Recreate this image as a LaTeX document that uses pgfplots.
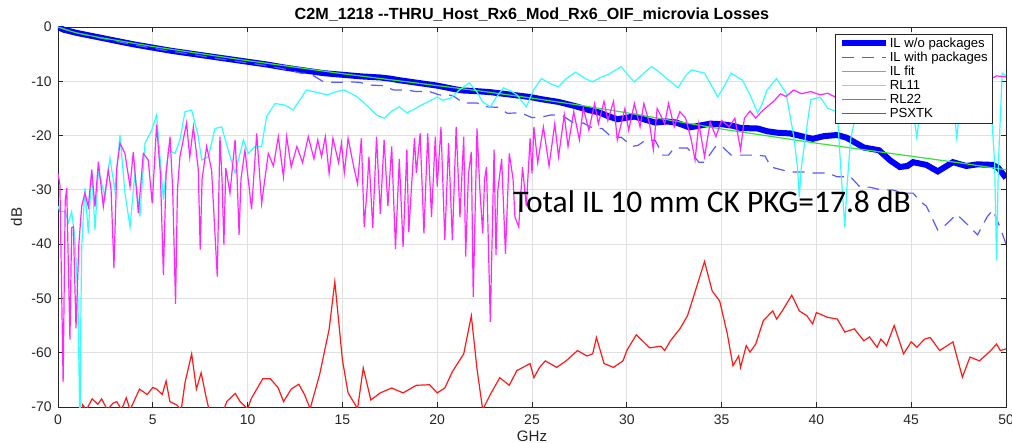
\documentclass[border=0pt]{standalone}
\usepackage{pgfplots}
\pgfplotsset{compat=1.18}
\usepackage{fontspec}
\setmainfont{Liberation Sans}
\newfontfamily\calibri{Carlito}

\definecolor{axgray}{rgb}{0.15,0.15,0.15}
\definecolor{gridgray}{rgb}{0.88,0.88,0.88}
\definecolor{ilblue}{rgb}{0,0,1}
\definecolor{dashblue}{rgb}{0.35,0.35,1}
\definecolor{fitgreen}{rgb}{0.2,0.9,0.2}
\definecolor{rlcyan}{rgb}{0.2,1,1}
\definecolor{rlmagenta}{rgb}{1,0.15,1}
\definecolor{xtred}{rgb}{1,0.1,0.1}

% thin curve in colour #1, with a legend sample that keeps the colour
\pgfplotsset{thin curve/.style={draw=#1, line width=0.6bp,
  legend image post style={draw=#1, line width=0.8bp}}}

\begin{document}
\begin{tikzpicture}
\begin{axis}[
  scale only axis, width=474bp, height=190bp,
  xmin=0, xmax=50, ymin=-70, ymax=0,
  xtick={0,5,...,50}, ytick={-70,-60,...,0},
  grid=major, grid style={gridgray, line width=0.4bp},
  axis line style={axgray, line width=0.4bp},
  tick style={axgray, line width=0.4bp},
  tick align=inside, major tick length=2.5bp,
  /pgf/number format/assume math mode=true,
  ticklabel style={font=\fontsize{7}{8}\selectfont, text=axgray},
  xticklabel style={anchor=base, yshift=-8.5bp},
  yticklabel style={anchor=east, inner sep=0pt, xshift=-3bp},
  title={C2M\_1218 -{}-THRU\_Host\_Rx6\_Mod\_Rx6\_OIF\_microvia Losses},
  title style={font=\bfseries\fontsize{8.1}{9}\selectfont, at={(axis description cs:0.5,1)}, anchor=base, yshift=-2bp},
  xlabel={GHz}, ylabel={dB},
  label style={font=\fontsize{7.6}{9}\selectfont, text=axgray},
  xlabel style={at={(axis description cs:0.5,-0.0895)}, anchor=base},
  ylabel style={at={(axis description cs:-0.038,0.5)}, anchor=base},
  legend cell align=left,
  legend style={at={(axis description cs:0.986,0.982)}, anchor=north east,
    draw=axgray, line width=0.4bp, fill=white,
    font=\fontsize{6.6}{7.5}\selectfont,
    inner xsep=2bp, inner ysep=1.6bp, row sep=0.6bp,
    nodes={inner sep=0.3bp, text height=4.6bp, text depth=1.2bp}},
  legend image code/.code={\draw[#1] (0bp,0.25bp) -- (22bp,0.25bp);},
]
\addplot[draw=ilblue, line width=3bp, legend image post style={draw=ilblue}] coordinates {
(0,0) (0.3,-0.5) (1,-1.1) (2,-1.8) (3,-2.5) (4,-3.2) (5,-3.8) (6,-4.4) (7,-4.9) (8,-5.4) (9,-5.9) (10,-6.4)
(11,-6.9) (12,-7.5) (13,-8.0) (14,-8.5) (15,-8.8) (16,-9.1) (17,-9.3) (17.5,-9.5) (18,-9.8) (19,-10.3)
(20,-10.8) (21,-11.5) (21.4,-11.7) (22,-11.8) (22.8,-12.0) (23.5,-12.3) (24.2,-12.6) (24.9,-12.9)
(25.5,-13.3) (26.4,-13.8) (27.3,-14.6) (28,-15.3) (28.6,-15.8) (29,-16.4) (29.5,-17.0) (30,-16.7)
(30.4,-16.5) (31,-17.1) (31.5,-17.6) (32.1,-17.4) (32.6,-17.6) (33,-18.1) (33.3,-18.5) (33.8,-18.2)
(34.4,-17.8) (35,-17.9) (35.6,-18.2) (36,-18.6) (36.9,-18.7) (37.4,-19.2) (38,-19.5) (38.6,-19.6)
(39.2,-20.1) (39.8,-20.6) (40.4,-20.1) (41.1,-19.9) (41.6,-20.4) (42.5,-22.2) (43.3,-22.7) (43.9,-24.6)
(44.4,-25.8) (44.8,-25.6) (45.1,-24.9) (45.8,-25.4) (46.4,-26.6) (47.2,-24.9) (47.9,-25.6) (48.5,-25.3)
(49.3,-25.4) (49.6,-26.0) (50,-27.8)};
\addlegendentry{IL w/o packages}
\addplot[thin curve=dashblue, dash pattern=on 6bp off 4bp] coordinates {
(0,0) (1,-1.1) (2,-1.9) (3,-2.6) (4,-3.3) (5,-3.9) (6,-4.5) (7,-5.0) (8,-5.6) (9,-6.1) (10,-6.6)
(11,-7.1) (12,-7.8) (12.8,-8.5) (13.3,-8.6) (14,-10.1) (14.7,-10.2) (15.4,-10.1) (15.9,-10.2)
(16.5,-10.7) (17.1,-10.8) (17.7,-11.6) (18.4,-11.6) (18.9,-11.9) (19.6,-11.9) (20.1,-12.5) (20.8,-12.6)
(21.4,-14.0) (22.1,-14.0) (22.6,-14.7) (23.2,-14.8) (23.7,-15.9) (24.4,-15.8) (25.0,-16.7) (25.5,-16.6)
(26.0,-16.2) (26.6,-16.3) (27.2,-17.7) (27.7,-17.7) (28.2,-18.6) (28.7,-18.7) (29.2,-20.3) (29.7,-20.3)
(30.3,-22) (30.6,-21.8) (31.0,-20.8) (31.5,-20.9) (31.9,-23.6) (32.2,-23.6) (32.5,-22.3) (33.2,-22.3)
(33.8,-24.9) (34.1,-24.9) (34.7,-21.9) (35.0,-21.9) (35.5,-23.6) (36.2,-23.6) (36.9,-23.6) (37.3,-23.8)
(37.6,-25.8) (38.6,-26.7) (39.3,-26.7) (39.8,-26.9) (40.6,-26.9) (41.1,-27.6) (41.8,-27.6) (42.3,-29.5)
(42.8,-29.5) (43.4,-30) (44.0,-30) (44.6,-30.6) (45.1,-30.6) (45.5,-32.2) (45.8,-33) (46.4,-37.4)
(46.8,-36.5) (47.4,-34.5) (48.0,-36.5) (48.5,-38.3) (49.0,-35) (49.3,-33.7) (49.7,-37) (50,-40)};
\addlegendentry{IL with packages}
\addplot[thin curve=fitgreen] coordinates {
(0,0) (0.5,-0.6) (1,-1.1) (2,-1.8) (3,-2.4) (5,-3.6) (7.5,-4.9) (10,-6.2) (12.5,-7.4) (15,-8.6)
(17.5,-9.7) (20,-10.8) (22.5,-11.9) (25,-13.1) (27.5,-14.4) (30,-15.8) (32.5,-17.3) (35,-18.8)
(37.5,-20.1) (40,-21.4) (42.5,-22.6) (45,-23.8) (47.5,-25.0) (50,-26.3)};
\addlegendentry{IL fit}
\addplot[thin curve=rlcyan] coordinates {
(0,-33) (0.1,-34) (0.37,-34) (0.55,-36) (0.72,-34) (0.9,-39.2) (1.05,-50) (1.16,-75) (1.2,-55)
(1.25,-40.5) (1.42,-29.7) (1.6,-38) (1.78,-26.3) (1.95,-37.4) (2.13,-26.6) (2.48,-31.2) (2.74,-24.2)
(3.0,-30) (3.27,-19.9) (3.53,-30.6) (3.8,-36.8) (4.06,-26.9) (4.32,-34.9) (4.59,-21.4) (4.94,-19)
(5.2,-16.2) (5.56,-31.8) (5.82,-22.7) (6.17,-23.3) (6.43,-20.8) (6.7,-15.6) (7.05,-15.3) (7.4,-20.2)
(7.58,-24.5) (7.93,-23.9) (8.28,-18.7) (8.63,-18.4) (8.98,-22.7) (9.34,-26.9) (9.78,-20.8) (10.04,-23.3)
(10.39,-22) (10.74,-22) (11.0,-16.5) (11.45,-14.1) (11.98,-14.4) (12.4,-15.3) (13.1,-11.6) (13.6,-12)
(14.2,-12.5) (14.6,-12) (15.1,-11.6) (15.8,-12.9) (16.3,-14.5) (16.8,-16.2) (17.2,-16.8) (17.6,-15.5)
(18.0,-14.7) (18.4,-15.8) (18.7,-15.3) (19.1,-14.5) (19.5,-13.8) (20,-12.9) (20.3,-13.5) (20.7,-13.1)
(21.2,-11.5) (21.7,-10.3) (22.1,-12) (22.4,-13.8) (22.8,-14.7) (23.1,-13) (23.5,-11.2) (23.9,-11.8)
(24.2,-12.5) (24.7,-14.7) (25.1,-11.5) (25.5,-9.5) (26.0,-10.5) (26.4,-11) (26.8,-9.5) (27.3,-8.3)
(27.8,-9.5) (28.2,-10.1) (28.6,-9.3) (29,-8.8) (29.7,-7.3) (30,-8.6) (30.4,-10.1) (30.9,-8.5) (31.3,-7.3)
(31.6,-8) (32,-9.2) (32.7,-11.2) (33.1,-9) (33.4,-7.9) (34.1,-8.5) (34.5,-11) (34.8,-12.9) (35.2,-10.5)
(35.5,-8.5) (36.1,-9.8) (36.5,-12.5) (36.9,-15.8) (37.1,-14.5) (37.4,-11.6) (37.9,-9.5) (38.4,-12.2)
(38.8,-20) (39.0,-25.8) (39.1,-31.3) (39.2,-26) (39.4,-20.8) (39.7,-13.4) (40.2,-12.9) (40.6,-15)
(41.1,-15.6) (41.3,-26.9) (41.5,-36.8) (41.6,-30) (41.8,-20.8) (42.2,-14) (43,-12) (44,-11) (45,-13)
(45.3,-20.4) (45.5,-14) (46.5,-12) (47.2,-13) (47.4,-20.4) (47.6,-14) (48.5,-11) (49.2,-14) (49.4,-25)
(49.5,-43) (49.6,-25) (49.8,-8.5) (50,-9)};
\addlegendentry{RL11}
\addplot[thin curve=rlmagenta] coordinates {
(0,-27) (0.1,-29) (0.27,-65.4) (0.38,-32) (0.46,-29.7) (0.63,-57.6) (0.72,-37) (0.81,-36.8) (0.95,-55.5)
(1.1,-40) (1.25,-33) (1.42,-30.6) (1.6,-33.1) (1.78,-26.3) (1.95,-33.1) (2.13,-24.8) (2.39,-33.1)
(2.65,-26.3) (2.8,-30) (2.95,-44.4) (3.1,-26) (3.27,-21.4) (3.53,-23.3) (3.8,-29.4) (3.97,-23) (4.24,-34.3)
(4.5,-23.3) (4.76,-24.5) (4.97,-32.5) (5.2,-18) (5.4,-27) (5.56,-45.7) (5.7,-27) (5.91,-20.2) (6.05,-30)
(6.2,-51) (6.3,-30) (6.43,-23.9) (6.78,-17.7) (6.95,-24) (7.14,-18.4) (7.4,-26.3) (7.5,-41) (7.6,-28)
(7.84,-22) (8.1,-26.3) (8.4,-46) (8.54,-20.2) (8.65,-28) (8.75,-40.1) (8.85,-26) (9.07,-30.6) (9.34,-20.8)
(9.45,-28) (9.55,-38.3) (9.65,-28) (9.86,-22.7) (10.21,-33.6) (10.48,-19.6) (10.74,-32.5) (11.09,-23.3)
(11.36,-25.6) (11.62,-20.2) (11.89,-27.6) (12.06,-20.2) (12.3,-25.8) (12.6,-22) (12.9,-25) (13.2,-20.2)
(13.5,-24.3) (13.7,-20.8) (13.9,-23.9) (14.1,-20.2) (14.3,-27) (14.5,-20.5) (14.8,-25) (14.95,-21.4)
(15.1,-26.9) (15.3,-20.5) (15.6,-25.8) (15.8,-28.9) (16.0,-20.5) (16.15,-36.8) (16.3,-30) (16.4,-23.9)
(16.6,-37) (16.8,-20.2) (17.0,-34.4) (17.2,-20.8) (17.4,-33) (17.6,-22) (17.8,-40.9) (18.0,-24.3)
(18.2,-40.5) (18.4,-22.6) (18.5,-37.8) (18.8,-20.5) (18.9,-26.9) (19.1,-19.6) (19.3,-38) (19.5,-19.6)
(19.7,-35) (19.9,-20.2) (20.0,-29.4) (20.2,-18.4) (20.4,-39.2) (20.6,-21.4) (20.8,-39.3) (21.0,-18.4)
(21.2,-35) (21.4,-20.2) (21.5,-42.3) (21.65,-27) (21.8,-23) (21.9,-49.7) (22.1,-18.7) (22.25,-30)
(22.4,-38) (22.5,-28) (22.6,-25.8) (22.8,-54.3) (23.0,-22.6) (23.1,-42) (23.2,-30) (23.4,-24.3)
(23.6,-41.8) (23.8,-23.3) (24.0,-28) (24.1,-35) (24.3,-36.8) (24.5,-25.8) (24.7,-33) (24.9,-20.5)
(25.0,-27) (25.1,-18.4) (25.3,-25) (25.6,-18.4) (25.9,-25.6) (26.2,-17.8) (26.4,-23.9) (26.7,-16.2)
(26.9,-22) (27.2,-15.6) (27.5,-20.8) (27.7,-14.9) (28.0,-19) (28.3,-14.1) (28.5,-17.8) (28.8,-13.7)
(29.0,-17.2) (29.3,-13.7) (29.5,-20.8) (29.9,-15) (30.1,-19) (30.4,-14.1) (30.7,-18.4) (30.9,-14.1)
(31.2,-17.8) (31.4,-22.6) (31.6,-15) (32.0,-17.8) (32.2,-14.1) (32.5,-18.4) (32.8,-15.6) (33.1,-16.8)
(33.4,-20.8) (33.6,-24.5) (33.8,-17.8) (34.1,-23.9) (34.4,-17.5) (34.7,-20.2) (35.0,-17.2) (35.4,-18.4)
(35.7,-16.8) (36.0,-22.6) (36.2,-16.8) (36.5,-15.5) (36.8,-16.8) (37.1,-15.6) (37.5,-14.4) (37.8,-13.5)
(38.1,-12.3) (38.4,-12.8) (38.8,-11.6) (39.2,-12.3) (39.7,-11.9) (40.2,-12.5) (40.6,-12.2) (41.0,-12.9)
(41.5,-12) (43,-11.5) (45,-11) (47,-10.5) (49,-10) (49.5,-9) (50,-9.2)};
\addlegendentry{RL22}
\addplot[thin curve=xtred] coordinates {
(0,-76) (1.2,-72) (1.3,-69.6) (1.5,-70.5) (1.8,-68.5) (2.1,-69.5) (2.3,-68.5) (2.6,-70.5) (2.9,-69.3)
(3.1,-69) (3.35,-70.5) (3.6,-68.3) (3.8,-70.5) (4.0,-69) (4.3,-66.7) (4.7,-67.7) (5.0,-66.4) (5.2,-66.7)
(5.5,-67.7) (5.7,-65.2) (5.9,-69) (6.25,-69.6) (6.5,-70.5) (6.7,-65.5) (7.05,-60.2) (7.3,-66.7)
(7.55,-63.7) (7.8,-68) (8.0,-71) (8.5,-73) (8.9,-69) (9.35,-67.5) (9.6,-69) (10,-70.3) (10.2,-68.4)
(10.8,-64.8) (11.2,-64.8) (11.6,-66.4) (11.9,-69) (12.3,-66.7) (12.7,-65.8) (13.0,-67.7) (13.3,-70.3)
(13.8,-64) (14.3,-55.7) (14.6,-46.9) (15.0,-61.3) (15.3,-67.4) (15.8,-70.3) (16.1,-62.8) (16.5,-68.7)
(17.0,-67.4) (17.6,-66.5) (18.2,-67.4) (18.9,-66) (19.6,-65.9) (20.0,-67.4) (20.4,-66.5) (20.8,-63.5)
(21.4,-60.2) (21.8,-53.2) (22.1,-63) (22.4,-70.5) (22.8,-67.7) (23.3,-64.6) (23.8,-66) (24.2,-63.3)
(24.9,-62) (25.1,-64.6) (25.4,-62.7) (25.7,-61.5) (26.3,-62.7) (26.8,-61.5) (27.4,-59.6) (27.9,-60.6)
(28.2,-60.2) (28.4,-57.2) (28.8,-62) (29.3,-62.7) (29.8,-61.5) (30.0,-59.6) (30.5,-56.7) (31.2,-59.1)
(31.8,-58.8) (32.0,-59.6) (32.3,-57.8) (32.8,-55.6) (33.2,-53.2) (33.5,-49.9) (34.1,-43.2) (34.5,-48.6)
(34.9,-50.5) (35.3,-56.5) (35.6,-62.4) (35.9,-60.6) (36.0,-62.7) (36.3,-58.7) (36.5,-59.9) (36.8,-58.4)
(37.2,-54.1) (37.7,-52.3) (37.9,-53.8) (38.2,-52.3) (38.7,-49.4) (39.1,-52.3) (39.5,-53.2) (39.8,-54.7)
(40.0,-52.6) (40.6,-53.5) (41.1,-53.8) (41.5,-56.2) (42.0,-55.6) (42.5,-57.8) (42.8,-57.1) (43.2,-59)
(43.4,-57.5) (43.7,-58.7) (44.1,-55) (44.6,-60.2) (45.0,-58) (45.3,-59) (45.7,-57.5) (46.0,-57.2)
(46.5,-59.6) (46.9,-58.7) (47.2,-58) (47.7,-64.5) (48.1,-60.8) (48.6,-61.5) (49.2,-59.6) (49.5,-58.4)
(49.7,-59.6) (50,-59.3)};
\addlegendentry{PSXTK}
\node[anchor=base west, inner sep=0pt, font=\calibri\fontsize{15.8}{18}\selectfont]
  at (axis cs:24,-34.1) {Total IL 10 mm CK PKG=17.8 dB};
\coordinate (sw) at (rel axis cs:0,0);
\end{axis}
\pgfresetboundingbox
\path[use as bounding box] ([shift={(-29bp,-18bp)}]sw) rectangle ([shift={(477bp,203.5bp)}]sw);
\end{tikzpicture}
\end{document}
